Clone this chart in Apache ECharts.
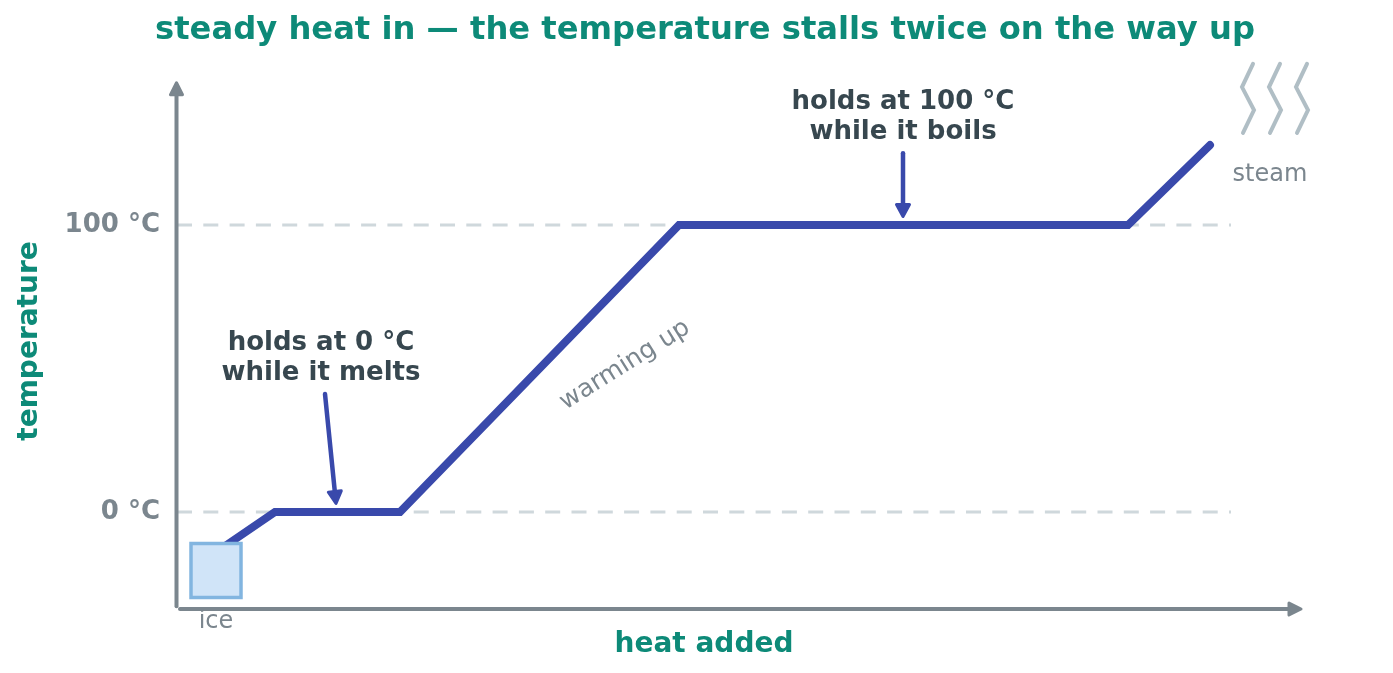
<!DOCTYPE html>
<html><head><meta charset="utf-8">
<style>html,body{margin:0;padding:0;background:#fff}#c{width:1393px;height:673px}</style>
<script src="https://cdn.jsdelivr.net/npm/echarts@6/dist/echarts.min.js"></script></head>
<body><div id="c"></div>
<script>
const titleText = 'steady heat in — the temperature stalls twice on the way up';
const xName = 'heat added';
const yName = 'temperature';
const yTicks = [0, 100];
const heat = [39, 98, 223, 502, 951, 1033];
const temperature = [-14, 0, 0, 100, 100, 127.9];
const guideEnd = 1054;
const axisArrows = [[[-0.5, -32.8], [-0.5, 149.6]], [[3, -33.8], [1124, -33.8]]];
const calloutArrows = [[[148, 41.1], [159, 3]], [[726, 125], [726, 103]]];
const iceBox = [[14, -11], [64, -29.8]];
const steamXs = [[1076, 1065, 1077, 1066], [1103, 1092, 1104, 1093], [1130, 1119, 1131, 1120]];
const steamYs = [156.2, 148.1, 140.1, 132.1];
const noteLabels = [
  {t: 'holds at 0 °C\nwhile it melts', x: 144, y: 53.6, bold: true, color: '#37474f', size: 26},
  {t: 'holds at 100 °C\nwhile it boils', x: 726, y: 137.5, bold: true, color: '#37474f', size: 26},
  {t: 'warming up', x: 448, y: 51.2, color: '#7b868e', size: 25, rot: 32},
  {t: 'ice', x: 39, y: -38.3, color: '#7b868e', size: 24},
  {t: 'steam', x: 1093, y: 117.7, color: '#7b868e', size: 24}
];
const FONT = '"DejaVu Sans"';
const GRAY = '#7b868e', BLUE = '#3949ab';

function arrowItem(seg, color, width, headLen, headHalf, api) {
  const a = api.coord(seg[0]), b = api.coord(seg[1]);
  const d = Math.hypot(b[0]-a[0], b[1]-a[1]), ux = (b[0]-a[0])/d, uy = (b[1]-a[1])/d;
  const bx = b[0]-ux*headLen, by = b[1]-uy*headLen;
  return {type: 'group', children: [
    {type: 'line', shape: {x1: a[0], y1: a[1], x2: bx, y2: by},
     style: {stroke: color, lineWidth: width, lineCap: 'round', fill: null}},
    {type: 'polygon', shape: {points: [[b[0], b[1]], [bx-uy*headHalf, by+ux*headHalf], [bx+uy*headHalf, by-ux*headHalf]]},
     style: {fill: color, stroke: color, lineWidth: 3, lineJoin: 'round'}}
  ]};
}
const custom = (name, data, z, renderItem) => ({name, type: 'custom', data, z, clip: false, silent: true,
  coordinateSystem: 'cartesian2d', renderItem, encode: {x: 0, y: 1}});

const chart = echarts.init(document.getElementById('c'), null, {renderer: 'canvas'});
chart.setOption({
  animation: false,
  backgroundColor: '#fff',
  title: {text: titleText, left: 700, top: 10, textAlign: 'center',
    textStyle: {fontFamily: FONT, fontWeight: 'bold', fontSize: 32.2, color: '#0d8a78'}},
  grid: {left: 177, top: 73, width: 1054, height: 536, outerBoundsMode: 'none'},
  xAxis: {type: 'value', min: 0, max: 1054, name: xName, nameLocation: 'middle', nameGap: 22,
    nameTextStyle: {fontFamily: FONT, fontWeight: 'bold', fontSize: 28, color: '#0d8a78'},
    axisLine: {show: false}, axisTick: {show: false}, axisLabel: {show: false}, splitLine: {show: false}},
  yAxis: {type: 'value', min: -33.8, max: 153, name: yName, nameLocation: 'middle', nameGap: 133, nameRotate: 90,
    nameTextStyle: {fontFamily: FONT, fontWeight: 'bold', fontSize: 28, color: '#0d8a78'},
    axisLine: {show: false}, axisTick: {show: false},
    axisLabel: {customValues: yTicks, formatter: v => v + ' °C', margin: 17, padding: [4, 0, 0, 0], fontFamily: FONT, fontWeight: 'bold', fontSize: 26, color: GRAY},
    splitLine: {show: false}},
  series: [
    custom('guides', yTicks.map(v => [0, v]), 1, (p, api) => {
      const a = api.coord([0, api.value(1)]), b = api.coord([guideEnd, api.value(1)]);
      return {type: 'line', shape: {x1: a[0], y1: a[1], x2: b[0], y2: b[1]},
        style: {stroke: '#cfd8dc', lineWidth: 3, lineDash: [15, 11.3], fill: null}};
    }),
    custom('axes', axisArrows.map((s, i) => [i, 0]), 2, (p, api) => arrowItem(axisArrows[p.dataIndex], GRAY, 4, 12, 6, api)),
    {name: 'temperature', type: 'line', data: heat.map((h, i) => [h, temperature[i]]), z: 3, clip: false, showSymbol: false, symbol: 'none',
      lineStyle: {color: BLUE, width: 8, cap: 'round', join: 'miter'}},
    custom('ice', [[0, 0]], 4, (p, api) => {
      const a = api.coord(iceBox[0]), b = api.coord(iceBox[1]);
      return {type: 'rect', shape: {x: a[0], y: a[1], width: b[0]-a[0], height: b[1]-a[1]},
        style: {fill: '#d0e4f8', stroke: '#82b5e0', lineWidth: 3.5}};
    }),
    custom('steam', steamXs.map((s, i) => [i, 0]), 4, (p, api) => ({type: 'polyline',
      shape: {points: steamXs[p.dataIndex].map((x, i) => api.coord([x, steamYs[i]]))},
      style: {stroke: '#b0bec5', lineWidth: 4, lineCap: 'round', lineJoin: 'miter', fill: null}})),
    custom('callouts', calloutArrows.map((s, i) => [i, 0]), 5, (p, api) => arrowItem(calloutArrows[p.dataIndex], BLUE, 4.5, 12, 6.5, api)),
    custom('notes', noteLabels.map(n => [n.x, n.y]), 6, (p, api) => {
      const n = noteLabels[p.dataIndex], c = api.coord([n.x, n.y]);
      return {type: 'text', x: c[0], y: c[1], rotation: (n.rot || 0) * Math.PI / 180,
        style: {text: n.t, fontFamily: FONT, fontWeight: n.bold ? 'bold' : 'normal', fontSize: n.size, fill: n.color,
          align: 'center', verticalAlign: 'middle', lineHeight: 30}};
    })
  ]
});
</script></body></html>
